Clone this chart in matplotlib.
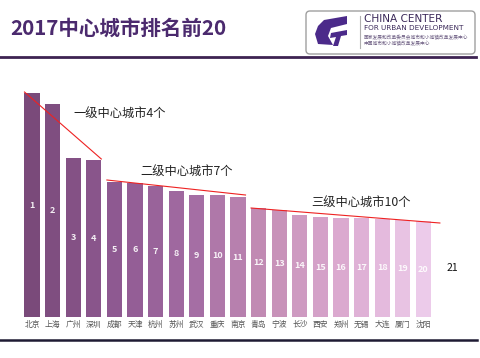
import matplotlib

matplotlib.use("Agg", force=True)
import matplotlib.pyplot as plt
import numpy as np
from matplotlib.colors import LinearSegmentedColormap
from matplotlib.patches import FancyBboxPatch, Polygon

plt.rcParams["font.family"] = ["Noto Sans CJK SC", "DejaVu Sans"]

cities = ["北京", "上海", "广州", "深圳", "成都", "天津", "杭州", "苏州", "武汉", "重庆",
          "南京", "青岛", "宁波", "长沙", "西安", "郑州", "无锡", "大连", "厦门", "沈阳"]
ranks = list(range(1, 21))
scores = [224, 213, 159, 157, 135, 134, 131, 126, 122, 122,
          120, 109, 107, 102, 100, 99, 99, 98, 97, 96]
tier_labels = ["一级中心城市4个", "二级中心城市7个", "三级中心城市10个"]
tier_ranges = [(0, 3), (4, 10), (11, 19)]

fig = plt.figure(figsize=(4.8, 3.58), dpi=100)
W, H = 480, 358

# bar axes: one data unit per pixel vertically, bar index horizontally
step = 20.6
x0 = 32
ax = fig.add_axes([0, (H - 317) / H, 1, 260 / H])
ax.set_xlim(-x0 / step, (W - x0) / step)
ax.set_ylim(0, 260)
ax.axis("off")

cmap = LinearSegmentedColormap.from_list(
    "bars", ["#7a4a7a", "#8d5890", "#a26ba2", "#c48db5", "#dcaad0", "#eccbea"])
colors = [cmap(v) for v in np.linspace(0, 1, len(scores))]
bw = 0.73
xs = np.arange(len(scores))
ax.bar(xs, scores, width=bw, color=colors, edgecolor="none")

for x, s, r in zip(xs, scores, ranks):
    ax.text(x, s / 2, str(r), ha="center", va="center", color="white",
            fontsize=6.5, fontweight="bold", alpha=0.9)
    ax.text(x, -8, cities[x], ha="center", va="center", color="#555555", fontsize=5.6)

ax.text(len(scores) + 0.4, 49, "21", ha="center", va="center", color="#111111", fontsize=7.5)

# tier trend lines
a, b = tier_ranges[0]
ax.plot([a - bw / 2, b + bw / 2], [scores[a] + 1, scores[b] + 1], color="#ee2222", lw=0.8,
        clip_on=False)
a, b = tier_ranges[1]
ax.plot([a - bw / 2, b + bw / 2], [scores[a] + 2, scores[b] + 2], color="#ee2222", lw=0.8,
        clip_on=False)
a, b = tier_ranges[2]
ax.plot([a - bw / 2, b + 0.8], [scores[a], scores[b] - 2], color="#ee2222", lw=0.8,
        clip_on=False)

ax.text(2.0, 204, tier_labels[0], ha="left", va="center", fontsize=8.8, color="#222222")
ax.text(5.25, 146, tier_labels[1], ha="left", va="center", fontsize=8.8, color="#222222")
ax.text(13.55, 115, tier_labels[2], ha="left", va="center", fontsize=8.8, color="#222222")

# header and frame in pixel coords
ov = fig.add_axes([0, 0, 1, 1], zorder=-1)
ov.set_xlim(0, W)
ov.set_ylim(H, 0)
ov.axis("off")

ov.text(10, 28, "2017中心城市排名前20", ha="left", va="center", fontsize=14.8,
        fontweight="bold", color="#4b2a6e")
ov.plot([0, 476], [56.5, 56.5], color="#3d2352", lw=2)
ov.plot([0, 477], [340, 340], color="#1e1a33", lw=1.8)

# logo box
ov.add_patch(FancyBboxPatch((306, 11), 169, 43, boxstyle="round,pad=0,rounding_size=4",
                            facecolor="white", edgecolor="#a0a0a0", lw=1))
ov.add_patch(Polygon([[324, 20], [347, 16], [347, 24], [331, 28], [328, 36], [333, 45],
                      [318, 44], [315, 34], [318, 26]], closed=True, facecolor="#4b2a8a",
                     edgecolor="none"))
ov.add_patch(Polygon([[331, 33], [347, 30], [347, 35], [341, 36], [338, 46], [333, 46],
                      [336, 37], [330, 38]], closed=True, facecolor="#4b2a8a",
                     edgecolor="none"))
ov.plot([360, 360], [16, 48], color="#b0b0b0", lw=0.8)
ov.text(364, 19.5, "CHINA CENTER", ha="left", va="center", fontsize=7.6,
        family="DejaVu Sans", color="#3c2a5a")
ov.text(364, 28.5, "FOR URBAN DEVELOPMENT", ha="left", va="center", fontsize=5.2,
        family="DejaVu Sans", color="#3c2a5a")
ov.text(364, 37.5, "国家发展和改革委员会城市和小城镇改革发展中心", ha="left", va="center",
        fontsize=3.4, color="#6a5a80")
ov.text(364, 43, "中国城市和小城镇改革发展中心", ha="left", va="center",
        fontsize=3.4, color="#6a5a80")

fig.savefig("out.png", dpi=100)
